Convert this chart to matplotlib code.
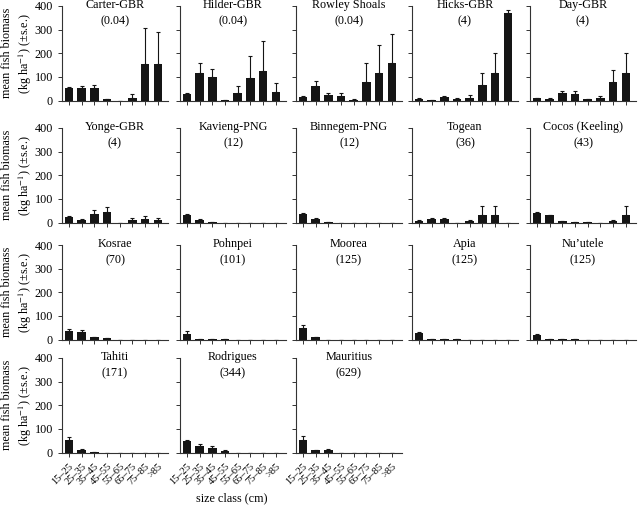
import matplotlib
matplotlib.use("Agg")
import matplotlib.pyplot as plt
import numpy as np

plt.rcParams['font.family'] = ['Liberation Serif', 'DejaVu Serif']
plt.rcParams['mathtext.fontset'] = 'stix'

size_classes = ["15–25", "25–35", "35–45", "45–55", "55–65", "65–75", "75–85", ">85"]

sites = ["Carter-GBR", "Hilder-GBR", "Rowley Shoals", "Hicks-GBR", "Day-GBR",
         "Yonge-GBR", "Kavieng-PNG", "Binnegem-PNG", "Togean", "Cocos (Keeling)",
         "Kosrae", "Pohnpei", "Moorea", "Apia", "Nu’utele",
         "Tahiti", "Rodrigues", "Mauritius"]
site_values = ["(0.04)", "(0.04)", "(0.04)", "(4)", "(4)",
               "(4)", "(12)", "(12)", "(36)", "(43)",
               "(70)", "(101)", "(125)", "(125)", "(125)",
               "(171)", "(344)", "(629)"]

carter_mean = [52, 52, 55, 5, 0, 12, 155, 153]
carter_se   = [7, 8, 10, 2, 0, 15, 150, 139]
hilder_mean = [27, 115, 100, 1, 30, 97, 125, 35]
hilder_se   = [3, 42, 33, 0, 30, 93, 127, 37]
rowley_mean = [14, 60, 25, 20, 3, 80, 115, 160]
rowley_se   = [6, 22, 5, 10, 2, 80, 120, 120]
hicks_mean  = [8, 1, 15, 8, 12, 65, 115, 370]
hicks_se    = [2, 0, 2, 4, 10, 50, 85, 15]
day_mean    = [10, 8, 30, 27, 5, 10, 80, 118]
day_se      = [2, 4, 10, 15, 2, 10, 50, 82]
yonge_mean  = [22, 10, 37, 45, 0, 10, 15, 10]
yonge_se    = [6, 3, 18, 20, 0, 10, 13, 10]
kavieng_mean = [32, 12, 3, 0, 0, 0, 0, 0]
kavieng_se   = [3, 3, 1, 0, 0, 0, 0, 0]
binnegem_mean = [35, 15, 2, 0, 0, 0, 0, 0]
binnegem_se   = [5, 5, 0, 0, 0, 0, 0, 0]
togean_mean = [8, 13, 13, 0, 5, 32, 32, 0]
togean_se   = [2, 5, 5, 0, 7, 36, 36, 0]
cocos_mean  = [40, 30, 5, 3, 3, 0, 5, 32]
cocos_se    = [5, 2, 0, 0, 0, 0, 5, 38]
kosrae_mean = [35, 30, 10, 5, 0, 0, 0, 0]
kosrae_se   = [10, 10, 2, 2, 0, 0, 0, 0]
pohnpei_mean = [25, 3, 1, 1, 0, 0, 0, 0]
pohnpei_se   = [13, 1, 0, 0, 0, 0, 0, 0]
moorea_mean = [50, 10, 0, 0, 0, 0, 0, 0]
moorea_se   = [10, 2, 0, 0, 0, 0, 0, 0]
apia_mean   = [28, 3, 1, 2, 0, 0, 0, 0]
apia_se     = [2, 0, 0, 0, 0, 0, 0, 0]
nuutele_mean = [17, 3, 1, 2, 0, 0, 0, 0]
nuutele_se   = [5, 0, 0, 0, 0, 0, 0, 0]
tahiti_mean = [55, 12, 2, 0, 0, 0, 0, 0]
tahiti_se   = [12, 3, 0, 0, 0, 0, 0, 0]
rodrigues_mean = [50, 28, 18, 7, 0, 0, 0, 0]
rodrigues_se   = [2, 10, 10, 2, 0, 0, 0, 0]
mauritius_mean = [55, 9, 10, 0, 0, 0, 0, 0]
mauritius_se   = [13, 3, 4, 0, 0, 0, 0, 0]

means = [carter_mean, hilder_mean, rowley_mean, hicks_mean, day_mean,
         yonge_mean, kavieng_mean, binnegem_mean, togean_mean, cocos_mean,
         kosrae_mean, pohnpei_mean, moorea_mean, apia_mean, nuutele_mean,
         tahiti_mean, rodrigues_mean, mauritius_mean]
ses = [carter_se, hilder_se, rowley_se, hicks_se, day_se,
       yonge_se, kavieng_se, binnegem_se, togean_se, cocos_se,
       kosrae_se, pohnpei_se, moorea_se, apia_se, nuutele_se,
       tahiti_se, rodrigues_se, mauritius_se]

fig = plt.figure(figsize=(6.4, 5.05), dpi=100)

col_left = [62, 180, 296, 412, 530]
row_top = [6, 128, 245, 358]
W, H = 106, 94.5
fs = 8.7
px = 72 / 100  # points per pixel

x = np.arange(len(size_classes))
for i in range(len(sites)):
    r, c = divmod(i, 5)
    ax = fig.add_axes([col_left[c] / 640, (505 - row_top[r] - H) / 505, W / 640, H / 505])
    ax.bar(x, means[i], width=0.68, color='#151515', zorder=2)
    ax.errorbar(x, means[i], yerr=[np.zeros(len(x)), ses[i]], fmt='none',
                ecolor='#151515', elinewidth=0.8, capsize=1.6, capthick=0.8, zorder=1)
    ax.set_xlim(-0.55, 7.8)
    ax.set_ylim(0, 400)
    ax.set_yticks([0, 100, 200, 300, 400])
    ax.set_xticks(x)
    for s in ['top', 'right']:
        ax.spines[s].set_visible(False)
    for s in ['left', 'bottom']:
        ax.spines[s].set_linewidth(0.8)
        ax.spines[s].set_color('#333333')
    ax.tick_params(axis='both', direction='out', length=3, width=0.7, color='#333333',
                   labelsize=fs)
    if c == 0:
        ax.set_ylabel("mean fish biomass\n(kg ha$^{-1}$) (±s.e.)", fontsize=fs, linespacing=1.35,
                      va='center')
        ax.yaxis.set_label_coords(-0.42, 0.5)
    else:
        ax.set_yticklabels([])
    if r == 3:
        ax.set_xticklabels(size_classes, rotation=45, ha='right', rotation_mode='anchor',
                           fontsize=7.5)
    else:
        ax.set_xticklabels([])
    ax.annotate(sites[i], xy=(0.5, 1.0), xycoords='axes fraction', xytext=(0, 1 * px),
                textcoords='offset points', ha='center', va='center', fontsize=fs)
    ax.annotate(site_values[i], xy=(0.5, 1.0), xycoords='axes fraction', xytext=(0, -15 * px),
                textcoords='offset points', ha='center', va='center', fontsize=fs)

fig.text(232 / 640, 7 / 505, "size class (cm)", ha='center', va='center', fontsize=fs)

fig.savefig("out.png", dpi=100)
